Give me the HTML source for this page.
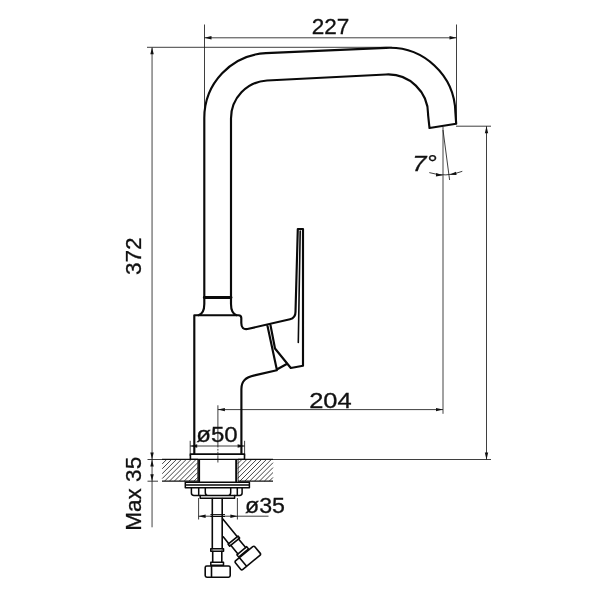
<!DOCTYPE html>
<html>
<head>
<meta charset="utf-8">
<title>Faucet dimensions</title>
<style>
html,body{margin:0;padding:0;background:#fff;}
body{width:600px;height:600px;overflow:hidden;}
svg{display:block;will-change:transform;}
text{font-family:"Liberation Sans",sans-serif;fill:#111;stroke:#111;stroke-width:0.3;}
.k{fill:none;stroke:#0a0a0a;stroke-width:2.15;stroke-linejoin:round;stroke-linecap:round;}
.m{fill:none;stroke:#0a0a0a;stroke-width:1.5;stroke-linejoin:round;stroke-linecap:round;}
.t{fill:none;stroke:#1c1c1c;stroke-width:0.85;}
.a{fill:#111;stroke:none;}
</style>
</head>
<body>
<svg width="600" height="600" viewBox="0 0 600 600">
<defs>
<path id="ar" d="M0,0 L-7,-1.7 L-7,1.7 Z"/>
</defs>
<rect width="600" height="600" fill="#fff"/>

<!-- dimension / extension lines -->
<g class="t">
<line x1="204.5" y1="24.5" x2="204.5" y2="110"/>
<line x1="456.5" y1="24.5" x2="456.5" y2="124"/>
<line x1="204.5" y1="37.8" x2="456.5" y2="37.8"/>
<line x1="147" y1="47.3" x2="392" y2="47.3"/>
<line x1="152.05" y1="47.3" x2="152.05" y2="527.3" style="stroke-width:1;stroke:#444"/>
<line x1="147.5" y1="459.5" x2="162" y2="459.5"/>
<line x1="147.5" y1="481.2" x2="158" y2="481.2"/>
<line x1="456" y1="126.2" x2="491" y2="126.2"/>
<line x1="486.5" y1="126.2" x2="486.5" y2="459.5"/>
<line x1="272" y1="459.5" x2="491" y2="459.5"/>
<line x1="443" y1="127" x2="443" y2="413.8" style="stroke-width:1;stroke:#444"/>
<line x1="443" y1="130" x2="449.6" y2="180"/>
<path d="M429.3,172.6 A49.2,49.2 0 0 0 462.3,171.3"/>
<line x1="217.9" y1="409.6" x2="443" y2="409.6"/>
<path d="M217.9,405.3 V447.5 M217.9,448.8 V450.6 M217.9,451.8 V453.5 M217.9,455.3 V462.5"/>
<line x1="190.2" y1="440.8" x2="190.2" y2="456"/>
<line x1="244.6" y1="440.8" x2="244.6" y2="456"/>
<line x1="190.2" y1="446" x2="244.6" y2="446"/>
<line x1="198.6" y1="498" x2="198.6" y2="519.5"/>
<line x1="237.4" y1="498" x2="237.4" y2="519.5"/>
<line x1="198.6" y1="516.2" x2="268.5" y2="516.2"/>
</g>
<g class="a">
<use href="#ar" transform="translate(204.5,37.8) rotate(180)"/>
<use href="#ar" transform="translate(456.5,37.8)"/>
<use href="#ar" transform="translate(152.05,47.3) rotate(-90)"/>
<use href="#ar" transform="translate(152.05,459.5) rotate(90)"/>
<use href="#ar" transform="translate(152.05,459.5) rotate(-90)"/>
<use href="#ar" transform="translate(152.05,481.2) rotate(90)"/>
<use href="#ar" transform="translate(486.5,126.2) rotate(-90)"/>
<use href="#ar" transform="translate(486.5,459.5) rotate(90)"/>
<use href="#ar" transform="translate(217.9,409.6) rotate(180)"/>
<use href="#ar" transform="translate(443,409.6)"/>
<use href="#ar" transform="translate(190.2,446) rotate(180)"/>
<use href="#ar" transform="translate(244.6,446)"/>
<use href="#ar" transform="translate(198.6,516.2) rotate(180)"/>
<use href="#ar" transform="translate(237.4,516.2)"/>
<use href="#ar" transform="translate(443,175.2) rotate(4)"/>
<use href="#ar" transform="translate(449.4,174.8) rotate(168)"/>
</g>

<!-- countertop -->
<path class="t" style="stroke:#222;stroke-width:.85" d="M162.2,463.9L166.7,459.4M162.2,468.8L171.6,459.4M162.2,473.7L176.5,459.4M162.2,478.6L181.4,459.4M164.6,481.1L186.3,459.4M169.5,481.1L191.2,459.4M174.4,481.1L196.1,459.4M179.3,481.1L197.8,462.6M184.2,481.1L197.8,467.5M189.1,481.1L197.8,472.4M194.0,481.1L197.8,477.3M237.8,463.6L242.0,459.4M237.8,468.5L246.9,459.4M237.8,473.4L251.8,459.4M237.8,478.3L256.7,459.4M239.9,481.1L261.6,459.4M244.8,481.1L266.5,459.4M249.7,481.1L271.4,459.4M254.6,481.1L273.0,462.7M259.5,481.1L273.0,467.6M264.4,481.1L273.0,472.5M269.3,481.1L273.0,477.4"/>
<g class="t" style="stroke:#111;stroke-width:1.3">
<line x1="162" y1="459.4" x2="198" y2="459.4"/>
<line x1="162" y1="481.1" x2="198" y2="481.1"/>
<line x1="238" y1="459.4" x2="273" y2="459.4"/>
<line x1="238" y1="481.1" x2="273" y2="481.1"/>
<line x1="197.6" y1="459.4" x2="197.6" y2="481.1" style="stroke-width:.7"/>
<line x1="238.2" y1="459.4" x2="238.2" y2="481.1" style="stroke-width:.7"/>
</g>

<!-- spout pipe -->
<path class="k" d="M204.3,297.5 V118 A65,65 0 0 1 265.9,53.1 L386,47.9 A66,66 0 0 1 455.4,112.5 L456.2,123.8 L429.5,128 L428.1,115 A40,40 0 0 0 386,74.5 L267,80.55 A38,38 0 0 0 231,118.5 V297.5"/>
<line class="k" x1="204.300" y1="297.500" x2="231" y2="297.500" style="stroke-width:2.8"/>
<!-- flare -->
<path class="k" d="M204.300,297.500 L204.300,304 C204.300,310 202.500,314 198.500,315.200 M231,297.500 L231,304 C231,310 233,314 236.500,315.200"/>
<!-- body -->
<path class="k" d="M194.3,454 L194.3,315.2 L238.500,315.200 C240.500,315.200 241.300,316 241.300,318 L241.300,323 C241.300,327.500 243.500,329.700 247.500,329 L290,319.300 C294,318.300 295.500,316 295.500,312 L297.800,229 L303,229 L303,365.800 L290.800,368 L275,348.500 L270.500,325.300 M267.500,326 L276.800,369.500 L286.300,364.300 M276.8,370.3 L254.5,375.4 C245.5,377.5 241.4,381 241.4,389 L241.4,454"/>
<path class="k" style="stroke-width:1.6" d="M300.2,231 L298.3,342.5"/>

<!-- base plate -->
<path class="m" style="stroke-width:1.6" d="M190.4,459 V454.1 H244.5 V459"/>
<line class="m" x1="190.7" y1="459.3" x2="244.6" y2="459.3" style="stroke-width:1.2"/>
<!-- shank -->
<g class="k" style="stroke-width:2">
<line x1="199.1" y1="460" x2="199.1" y2="481.5"/>
<line x1="236.2" y1="460" x2="236.2" y2="481.5"/>
</g>
<!-- washer -->
<path class="m" style="stroke-width:1.5" d="M185.3,482.3 H249.4 V487.8 H185.3 Z M185.3,485 H249.4"/>
<!-- nut -->
<path class="m" d="M191.4,488 V493 Q191.4,495.4 194,495.4 H239.6 Q242.1,495.4 242.1,493 V488 M198.7,488 V495.4 M237.3,488 V495.4 M205.3,488 V492.5 Q205.3,495 207.5,495.4 M230.7,488 V492.5 Q230.7,495 228.5,495.4"/>
<path class="m" d="M200.2,495.6 V498.3 H234.6 V495.6"/>

<!-- hoses -->
<g class="m" style="stroke-width:1.6">
<path d="M210.8,514.6 H224.6 M210.8,516.5 H224.6" style="stroke-width:1"/>
<path d="M212.3,498.5 V548.7 M222.2,498.5 V548.7"/>
<path d="M210.8,548.7 H223.5 V551.2 H210.8 Z"/>
<path d="M212.7,551.2 V562.3 M221.8,551.2 V562.3"/>
<path d="M210.8,562.3 H223.5 V565.2 H210.8 Z" style="stroke-width:1.5"/>
<path d="M206.8,566 H228.6 Q230.2,566 230.2,567.6 V575.6 Q230.2,577.2 228.6,577.2 H206.8 Q205.2,577.2 205.2,575.6 V567.6 Q205.2,566 206.8,566 Z M211.5,566 V577.2"/>
</g>
<g class="m" style="stroke-width:1.6" transform="translate(247.7,557.9) rotate(-39.5)">
<path d="M5.5,-46.1 V-23 M-5.5,-31.8 V-23"/>
<path d="M-6.4,-23 H6.4 V-20.5 H-6.4 Z"/>
<path d="M-5,-20.5 V-9.3 M5,-20.5 V-9.3"/>
<path d="M-6.4,-9.3 H6.4 V-6.4 H-6.4 Z" style="stroke-width:1.5"/>
<path d="M-11,-5.4 H11 Q12.6,-5.4 12.6,-3.8 V4.2 Q12.6,5.8 11,5.8 H-11 Q-12.6,5.8 -12.6,4.2 V-3.8 Q-12.6,-5.4 -11,-5.4 Z M-6.2,-5.4 V5.8"/>
</g>

<!-- labels -->
<text x="330.6" y="34.3" font-size="21.4" text-anchor="middle" textLength="37.6" lengthAdjust="spacingAndGlyphs">227</text>
<text transform="translate(141.3,256.2) rotate(-90)" font-size="21.4" text-anchor="middle" textLength="37.6" lengthAdjust="spacingAndGlyphs">372</text>
<text x="330.4" y="407.9" font-size="21.4" text-anchor="middle" textLength="42.5" lengthAdjust="spacingAndGlyphs">204</text>
<text x="217" y="441.8" font-size="21.4" text-anchor="middle" textLength="41.5" lengthAdjust="spacingAndGlyphs">ø50</text>
<text x="265" y="512.9" font-size="21.4" text-anchor="middle" textLength="40" lengthAdjust="spacingAndGlyphs">ø35</text>
<text transform="translate(141.4,493.8) rotate(-90)" font-size="21.4" text-anchor="middle" textLength="74" lengthAdjust="spacingAndGlyphs">Max 35</text>
<text x="424.6" y="170.8" font-size="21.5" font-style="italic" text-anchor="middle" textLength="24.5" lengthAdjust="spacingAndGlyphs" stroke="#111" stroke-width="0.45">7°</text>
</svg>
</body>
</html>
